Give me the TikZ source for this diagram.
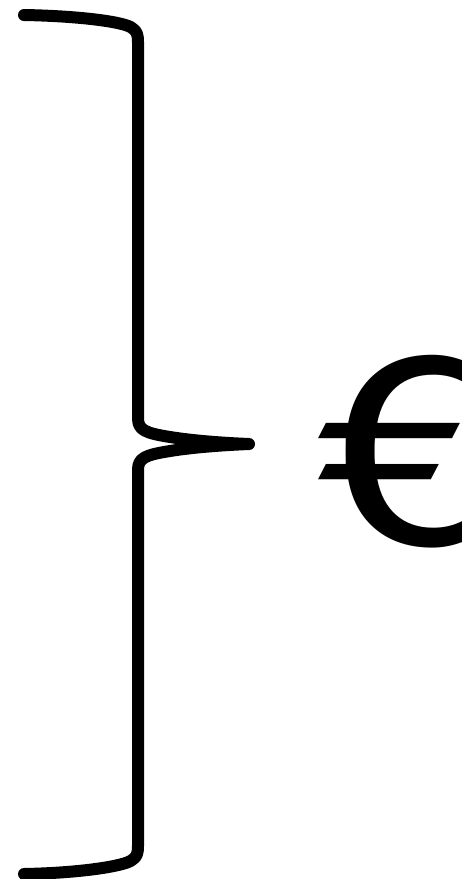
\documentclass[tikz,border=0pt]{standalone}
\usepackage{fontspec}
\setmainfont{DejaVu Sans}
\begin{document}
\begin{tikzpicture}[x=1pt,y=-1pt,
  bracestyle/.style={line width=12pt,line cap=round,line join=round,draw=black},
  eurostyle/.style={inner sep=0pt,outer sep=0pt,xscale=1.15,font=\fontsize{255}{255}\selectfont}]
\useasboundingbox (0,0) rectangle (461,879);
\draw[bracestyle] (24,15) .. controls (80,16) and (125,22) .. (132,28)
  .. controls (137,31) and (138,35) .. (138,42)
  -- (138,418)
  .. controls (138,430) and (145,433) .. (170,437)
  .. controls (195,441) and (225,443) .. (249,444)
  .. controls (225,445) and (195,447) .. (170,451)
  .. controls (145,455) and (138,458) .. (138,470)
  -- (138,846)
  .. controls (138,853) and (137,857) .. (132,860)
  .. controls (125,866) and (80,873) .. (24,874);
\node[eurostyle,anchor=base west] (euro) at (318,544) {€};
\end{tikzpicture}
\end{document}
